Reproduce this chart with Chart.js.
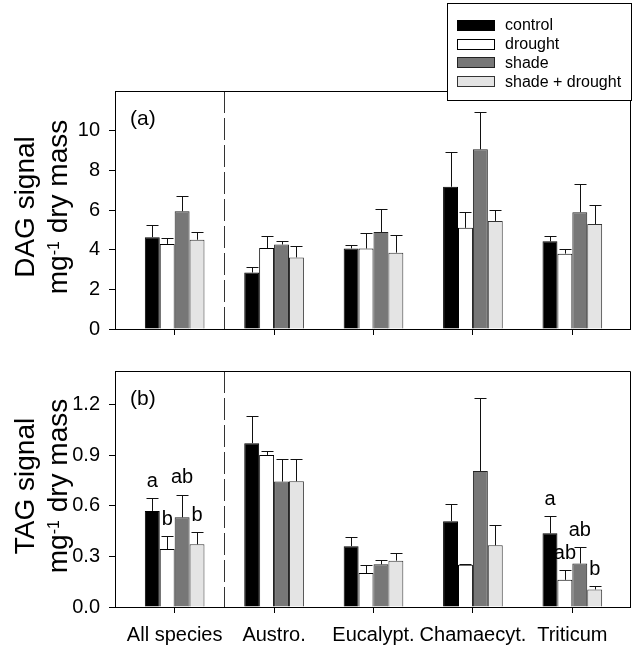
<!DOCTYPE html>
<html>
<head>
<meta charset="utf-8">
<script src="https://cdn.jsdelivr.net/npm/chart.js@4"></script>
<style>
  body { margin: 0; background: #fff; }
  #wrap { position: relative; width: 637px; height: 650px; }
  canvas { position: absolute; left: 0; }
</style>
</head>
<body>
<div id="wrap">
  <canvas id="dagChart" width="637" height="350" style="top:0"></canvas>
  <canvas id="tagChart" width="637" height="300" style="top:350px"></canvas>
</div>
<script>
var FONT = "'Liberation Sans', Arial, sans-serif";

// Categories / series
var species = ['All species', 'Austro.', 'Eucalypt.', 'Chamaecyt.', 'Triticum'];
var treatments = ['control', 'drought', 'shade', 'shade + drought'];
var barColors = ['#000000', '#ffffff', '#777777', '#e4e4e4'];
var barBorders = ['#000000', '#000000', '#222222', '#333333'];

// (a) DAG signal
var dagControl = [4.63, 2.85, 4.06, 7.17, 4.42];
var dagDrought = [4.29, 4.08, 4.06, 5.10, 3.80];
var dagShade = [5.94, 4.26, 4.89, 9.06, 5.89];
var dagShadeDrought = [4.50, 3.61, 3.85, 5.45, 5.29];
var dagControlErr = [0.60, 0.27, 0.20, 1.76, 0.26];
var dagDroughtErr = [0.32, 0.61, 0.76, 0.79, 0.23];
var dagShadeErr = [0.78, 0.16, 1.18, 1.86, 1.44];
var dagShadeDroughtErr = [0.40, 0.60, 0.89, 0.57, 0.97];
var dagTicks = [0, 2, 4, 6, 8, 10];

// (b) TAG signal
var tagControl = [0.570, 0.972, 0.361, 0.509, 0.437];
var tagDrought = [0.344, 0.902, 0.201, 0.251, 0.161];
var tagShade = [0.532, 0.744, 0.253, 0.807, 0.258];
var tagShadeDrought = [0.372, 0.746, 0.275, 0.366, 0.104];
var tagControlErr = [0.076, 0.161, 0.055, 0.100, 0.100];
var tagDroughtErr = [0.077, 0.025, 0.048, 0.007, 0.057];
var tagShadeErr = [0.133, 0.133, 0.024, 0.435, 0.097];
var tagShadeDroughtErr = [0.072, 0.133, 0.044, 0.122, 0.019];
var tagTicks = [0, 0.3, 0.6, 0.9, 1.2];

// significance letters (only All species and Triticum)
var tagControlLetters = ['a', '', '', '', 'a'];
var tagDroughtLetters = ['b', '', '', '', 'ab'];
var tagShadeLetters = ['ab', '', '', '', 'ab'];
var tagShadeDroughtLetters = ['b', '', '', '', 'b'];

function makeDatasets(values, errors, letters) {
  return treatments.map(function (t, k) {
    return {
      label: t,
      data: values[k].map(function (v, i) { return { x: i, y: v }; }),
      errors: errors[k],
      letters: letters ? letters[k] : null,
      backgroundColor: barColors[k],
      borderColor: barBorders[k],
      borderWidth: 1,
      categoryPercentage: 0.6,
      barPercentage: 1.0
    };
  });
}

// whiskers + letters
var errorBars = {
  id: 'errorBars',
  afterDatasetsDraw: function (chart) {
    var ctx = chart.ctx, y = chart.scales.y;
    ctx.save();
    ctx.strokeStyle = '#111';
    ctx.lineWidth = 1;
    chart.data.datasets.forEach(function (ds, k) {
      chart.getDatasetMeta(k).data.forEach(function (bar, i) {
        var top = y.getPixelForValue(ds.data[i].y + ds.errors[i]);
        var x = Math.round(bar.x) + 0.5;
        ctx.beginPath();
        ctx.moveTo(x, bar.y);
        ctx.lineTo(x, Math.round(top) + 0.5);
        ctx.moveTo(x - 6, Math.round(top) + 0.5);
        ctx.lineTo(x + 6, Math.round(top) + 0.5);
        ctx.stroke();
        if (ds.letters && ds.letters[i]) {
          ctx.fillStyle = '#000';
          ctx.font = '20px ' + FONT;
          ctx.textAlign = 'center';
          ctx.textBaseline = 'middle';
          ctx.fillText(ds.letters[i], bar.x, top - 17);
        }
      });
    });
    ctx.restore();
  }
};

// box round the plot, dashed divider, panel letter, y title
var panelDecor = {
  id: 'panelDecor',
  beforeDatasetsDraw: function (chart, args, opts) {
    var ctx = chart.ctx, a = chart.chartArea;
    var xd = Math.round(chart.scales.x.getPixelForValue(0.5)) + 0.5;
    ctx.save();
    ctx.strokeStyle = '#333';
    ctx.lineWidth = 1;
    ctx.setLineDash([22, 5]);
    ctx.beginPath();
    ctx.moveTo(xd, a.top);
    ctx.lineTo(xd, a.bottom);
    ctx.stroke();
    ctx.restore();
  },
  afterDraw: function (chart, args, opts) {
    var ctx = chart.ctx, a = chart.chartArea;
    ctx.save();
    ctx.strokeStyle = '#000';
    ctx.lineWidth = 1;
    ctx.beginPath();
    ctx.moveTo(Math.round(a.left) + 0.5, Math.round(a.top) + 0.5);
    ctx.lineTo(Math.round(a.right) + 0.5, Math.round(a.top) + 0.5);
    ctx.lineTo(Math.round(a.right) + 0.5, Math.round(a.bottom) + 0.5);
    ctx.stroke();

    ctx.fillStyle = '#000';
    ctx.font = '21px ' + FONT;
    ctx.textAlign = 'left';
    ctx.textBaseline = 'alphabetic';
    ctx.fillText(opts.panel, a.left + 15, a.top + opts.panelDy);

    // rotated two-line y title
    var yc = (a.top + a.bottom) / 2 - 3;
    ctx.save();
    ctx.translate(33.5, yc);
    ctx.rotate(-Math.PI / 2);
    ctx.font = '28px ' + FONT;
    ctx.textAlign = 'center';
    ctx.fillText(opts.title, 0, 0);
    ctx.restore();

    ctx.save();
    ctx.translate(67, yc);
    ctx.rotate(-Math.PI / 2);
    var big = '28px ' + FONT, small = '16px ' + FONT;
    ctx.font = big; var w1 = ctx.measureText('mg').width;
    var w3 = ctx.measureText(' dry mass').width;
    ctx.font = small; var w2 = ctx.measureText('-1').width;
    var x0 = -(w1 + w2 + w3) / 2;
    ctx.textAlign = 'left';
    ctx.font = big; ctx.fillText('mg', x0, 0);
    ctx.font = small; ctx.fillText('-1', x0 + w1, -8);
    ctx.font = big; ctx.fillText(' dry mass', x0 + w1 + w2, 0);
    ctx.restore();
    ctx.restore();
  }
};

var boxLegend = {
  id: 'boxLegend',
  afterDraw: function (chart) {
    var ctx = chart.ctx;
    ctx.save();
    ctx.fillStyle = '#fff';
    ctx.fillRect(447.5, 3.5, 184, 97);
    ctx.strokeStyle = '#000';
    ctx.lineWidth = 1;
    ctx.strokeRect(447.5, 3.5, 184, 97);
    ctx.font = '16px ' + FONT;
    ctx.textBaseline = 'middle';
    ctx.textAlign = 'left';
    treatments.forEach(function (t, k) {
      var yc = 25 + k * 18.7;
      ctx.fillStyle = barColors[k];
      ctx.fillRect(457.5, Math.round(yc - 5) + 0.5, 37, 10);
      ctx.strokeStyle = barBorders[k];
      ctx.strokeRect(457.5, Math.round(yc - 5) + 0.5, 37, 10);
      ctx.fillStyle = '#000';
      ctx.fillText(t, 505, yc + 1);
    });
    ctx.restore();
  }
};

function makeOptions(cfg) {
  var axisGrid = { drawOnChartArea: false, drawTicks: true, tickLength: 6, color: '#000', lineWidth: 1, offset: false };
  return {
    responsive: false,
    animation: false,
    events: [],
    layout: { padding: { top: cfg.top, right: 7, left: 0, bottom: 0 } },
    plugins: {
      legend: { display: false },
      tooltip: { enabled: false },
      panelDecor: { panel: cfg.panel, panelDy: 34, title: cfg.title }
    },
    scales: {
      x: {
        type: 'linear',
        offset: false,
        bounds: 'data',
        min: -0.6,
        max: 4.58,
        afterBuildTicks: function (s) { s.ticks = species.map(function (n, i) { return { value: i }; }); },
        afterFit: function (s) { s.height = cfg.xHeight; },
        grid: axisGrid,
        border: { display: true, color: '#000', width: 1 },
        ticks: {
          display: cfg.showX,
          autoSkip: false,
          maxRotation: 0,
          padding: 10,
          color: '#000',
          font: { family: FONT, size: 20 },
          callback: function (v) { return species[v]; }
        }
      },
      y: {
        min: 0,
        max: cfg.max,
        afterBuildTicks: function (s) { s.ticks = cfg.ticks.map(function (v) { return { value: v }; }); },
        afterFit: function (s) { s.width = 115; },
        grid: axisGrid,
        border: { display: true, color: '#000', width: 1 },
        ticks: {
          padding: 9,
          color: '#000',
          font: { family: FONT, size: 20 },
          callback: cfg.fmt
        }
      }
    }
  };
}

new Chart(document.getElementById('dagChart'), {
  type: 'bar',
  data: {
    datasets: makeDatasets(
      [dagControl, dagDrought, dagShade, dagShadeDrought],
      [dagControlErr, dagDroughtErr, dagShadeErr, dagShadeDroughtErr],
      null)
  },
  options: makeOptions({
    top: 91, xHeight: 12, showX: false, max: 12, ticks: dagTicks,
    panel: '(a)', title: 'DAG signal',
    fmt: function (v) { return String(v); }
  }),
  plugins: [panelDecor, errorBars, boxLegend]
});

new Chart(document.getElementById('tagChart'), {
  type: 'bar',
  data: {
    datasets: makeDatasets(
      [tagControl, tagDrought, tagShade, tagShadeDrought],
      [tagControlErr, tagDroughtErr, tagShadeErr, tagShadeDroughtErr],
      [tagControlLetters, tagDroughtLetters, tagShadeLetters, tagShadeDroughtLetters])
  },
  options: makeOptions({
    top: 11, xHeight: 43, showX: true, max: 1.4, ticks: tagTicks,
    panel: '(b)', title: 'TAG signal',
    fmt: function (v) { return v.toFixed(1); }
  }),
  plugins: [panelDecor, errorBars]
});
</script>
</body>
</html>
